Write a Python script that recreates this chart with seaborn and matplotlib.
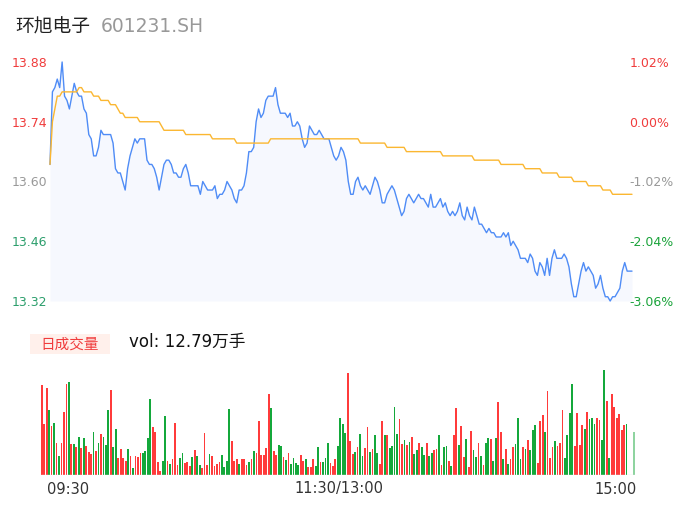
import numpy as np
import pandas as pd
import matplotlib.pyplot as plt
import seaborn as sns

# stock and day summary
stock_name = "环旭电子"
stock_code = "601231.SH"
prev_close = 13.74
day_volume_label = "vol: 12.79万手"

# minute prices 09:30 -> 15:00 (241 points)
price = [
    13.64, 13.81, 13.82, 13.84, 13.82, 13.88, 13.80, 13.79, 13.77, 13.80,
    13.83, 13.81, 13.80, 13.80, 13.77, 13.76, 13.71, 13.70, 13.66, 13.66,
    13.68, 13.72, 13.71, 13.71, 13.71, 13.71, 13.69, 13.63, 13.62, 13.62,
    13.60, 13.58, 13.63, 13.66, 13.68, 13.70, 13.69, 13.70, 13.70, 13.70,
    13.65, 13.64, 13.64, 13.63, 13.61, 13.58, 13.61, 13.64, 13.65, 13.65,
    13.64, 13.62, 13.62, 13.61, 13.61, 13.63, 13.64, 13.62, 13.59, 13.59,
    13.59, 13.59, 13.57, 13.60, 13.59, 13.58, 13.58, 13.58, 13.59, 13.56,
    13.57, 13.57, 13.58, 13.60, 13.59, 13.58, 13.56, 13.55, 13.58, 13.58,
    13.59, 13.62, 13.67, 13.67, 13.68, 13.74, 13.77, 13.75, 13.76, 13.79,
    13.80, 13.80, 13.80, 13.82, 13.78, 13.76, 13.76, 13.76, 13.75, 13.76,
    13.73, 13.73, 13.74, 13.73, 13.70, 13.68, 13.69, 13.73, 13.72, 13.71,
    13.71, 13.72, 13.71, 13.70, 13.70, 13.70, 13.68, 13.66, 13.65, 13.66,
    13.68, 13.67, 13.65, 13.60, 13.57, 13.57, 13.60, 13.61, 13.59, 13.58,
    13.59, 13.58, 13.57, 13.59, 13.61, 13.60, 13.58, 13.55, 13.55, 13.57,
    13.58, 13.59, 13.58, 13.56, 13.54, 13.52, 13.53, 13.56, 13.57, 13.56,
    13.55, 13.56, 13.57, 13.56, 13.56, 13.55, 13.54, 13.57, 13.54, 13.54,
    13.55, 13.56, 13.54, 13.55, 13.53, 13.52, 13.53, 13.52, 13.53, 13.55,
    13.52, 13.51, 13.54, 13.52, 13.51, 13.54, 13.52, 13.50, 13.50, 13.49,
    13.48, 13.49, 13.48, 13.48, 13.47, 13.47, 13.47, 13.48, 13.47, 13.48,
    13.45, 13.46, 13.45, 13.44, 13.42, 13.42, 13.42, 13.41, 13.43, 13.42,
    13.39, 13.38, 13.41, 13.40, 13.38, 13.42, 13.38, 13.42, 13.44, 13.42,
    13.42, 13.42, 13.43, 13.42, 13.40, 13.36, 13.33, 13.33, 13.36, 13.39,
    13.41, 13.39, 13.40, 13.39, 13.38, 13.35, 13.36, 13.38, 13.35, 13.33,
    13.33, 13.32, 13.33, 13.33, 13.34, 13.35, 13.39, 13.41, 13.39, 13.39,
    13.39,
]

# average price line
avg_price = [
    13.64, 13.74, 13.77, 13.80, 13.80, 13.81, 13.81, 13.81, 13.81, 13.81,
    13.81, 13.81, 13.82, 13.82, 13.81, 13.81, 13.81, 13.81, 13.80, 13.80,
    13.80, 13.79, 13.79, 13.79, 13.79, 13.78, 13.78, 13.78, 13.77, 13.76,
    13.76, 13.75, 13.75, 13.75, 13.75, 13.75, 13.75, 13.74, 13.74, 13.74,
    13.74, 13.74, 13.74, 13.74, 13.74, 13.74, 13.73, 13.72, 13.72, 13.72,
    13.72, 13.72, 13.72, 13.72, 13.72, 13.72, 13.71, 13.71, 13.71, 13.71,
    13.71, 13.71, 13.71, 13.71, 13.71, 13.71, 13.71, 13.70, 13.70, 13.70,
    13.70, 13.70, 13.70, 13.70, 13.70, 13.70, 13.70, 13.69, 13.69, 13.69,
    13.69, 13.69, 13.69, 13.69, 13.69, 13.69, 13.69, 13.69, 13.69, 13.69,
    13.69, 13.70, 13.70, 13.70, 13.70, 13.70, 13.70, 13.70, 13.70, 13.70,
    13.70, 13.70, 13.70, 13.70, 13.70, 13.70, 13.70, 13.70, 13.70, 13.70,
    13.70, 13.70, 13.70, 13.70, 13.70, 13.70, 13.70, 13.70, 13.70, 13.70,
    13.70, 13.70, 13.70, 13.70, 13.70, 13.70, 13.70, 13.70, 13.69, 13.69,
    13.69, 13.69, 13.69, 13.69, 13.69, 13.69, 13.69, 13.69, 13.69, 13.68,
    13.68, 13.68, 13.68, 13.68, 13.68, 13.68, 13.68, 13.67, 13.67, 13.67,
    13.67, 13.67, 13.67, 13.67, 13.67, 13.67, 13.67, 13.67, 13.67, 13.67,
    13.67, 13.67, 13.66, 13.66, 13.66, 13.66, 13.66, 13.66, 13.66, 13.66,
    13.66, 13.66, 13.66, 13.66, 13.66, 13.65, 13.65, 13.65, 13.65, 13.65,
    13.65, 13.65, 13.65, 13.65, 13.65, 13.65, 13.64, 13.64, 13.64, 13.64,
    13.64, 13.64, 13.64, 13.64, 13.64, 13.64, 13.63, 13.63, 13.63, 13.63,
    13.63, 13.63, 13.63, 13.62, 13.62, 13.62, 13.62, 13.62, 13.62, 13.62,
    13.61, 13.61, 13.61, 13.61, 13.61, 13.61, 13.60, 13.60, 13.60, 13.60,
    13.60, 13.60, 13.59, 13.59, 13.59, 13.59, 13.59, 13.59, 13.58, 13.58,
    13.58, 13.58, 13.57, 13.57, 13.57, 13.57, 13.57, 13.57, 13.57, 13.57,
    13.57,
]

# minute volume (relative bar heights) and direction (1 = up/red, 0 = down/green)
volume = [
    90, 51, 87, 65, 49, 52, 32, 19, 32, 63,
    91, 93, 31, 31, 28, 38, 27, 37, 29, 23,
    21, 43, 24, 32, 41, 38, 30, 65, 85, 28,
    46, 17, 26, 17, 14, 26, 19, 7, 19, 18,
    22, 22, 24, 37, 76, 48, 43, 13, 4, 14,
    59, 14, 11, 16, 52, 10, 17, 22, 12, 13,
    9, 18, 25, 19, 10, 7, 42, 10, 21, 19,
    9, 11, 13, 20, 8, 14, 66, 34, 14, 16,
    11, 16, 16, 10, 13, 16, 24, 22, 54, 20,
    20, 27, 81, 67, 24, 20, 30, 29, 18, 15,
    22, 11, 17, 12, 10, 20, 14, 16, 8, 8,
    16, 9, 28, 13, 13, 17, 32, 12, 9, 16,
    29, 57,
    51, 42, 102, 34, 21, 23, 28, 41, 19, 27,
    48, 23, 26, 40, 22, 11, 54, 40, 40, 27,
    29, 68, 41, 56, 31, 35, 30, 33, 38, 21,
    25,
    32, 28, 20, 32, 19, 22, 25, 26, 40, 10,
    28, 29, 14, 9, 40, 67, 30, 49, 18, 36,
    8, 44, 25, 18, 32, 19, 10, 32, 37, 36,
    14, 37, 73, 43, 16, 26, 11, 16, 28, 31,
    57, 16, 28, 26, 35, 25, 45, 50, 12, 54,
    60, 43, 84, 17, 28, 34, 29, 32, 65, 17,
    40, 62, 91, 29, 62, 30, 50, 46, 63, 56,
    57, 51, 57, 55, 35, 105, 74, 17, 81, 68,
    57, 61, 45, 50, 51,
    0, 0, 43,
]
vol_up = [
    1, 1, 1, 0, 1, 0, 1, 0, 1, 1,
    1, 0, 1, 0, 1, 0, 1, 0, 1, 1,
    1, 0, 1, 0, 1, 0, 0, 0, 1, 0,
    0, 1, 1, 1, 1, 0, 1, 0, 1, 1,
    1, 0, 0, 0, 0, 1, 1, 1, 1, 0,
    0, 1, 0, 1, 1, 1, 0, 0, 1, 1,
    1, 0, 1, 0, 0, 1, 1, 1, 0, 1,
    1, 1, 1, 0, 0, 0, 0, 1, 1, 1,
    0, 1, 1, 1, 0, 1, 0, 1, 1, 1,
    1, 1, 1, 0, 1, 1, 0, 0, 1, 0,
    1, 0, 0, 0, 0, 1, 1, 0, 1, 1,
    1, 0, 0, 1, 0, 0, 0, 1, 1, 1,
    0, 0,
    0, 0, 1, 1, 1, 0, 1, 0, 0, 1,
    1, 0, 1, 0, 0, 1, 1, 0, 1, 0,
    0, 0, 0, 1, 1, 0, 1, 0, 1, 0,
    0,
    1, 0, 0, 1, 0, 0, 1, 1, 0, 1,
    0, 0, 1, 0, 1, 1, 0, 1, 1, 0,
    1, 1, 0, 0, 1, 0, 1, 0, 0, 1,
    0, 0, 1, 1, 0, 1, 0, 1, 1, 0,
    0, 0, 1, 0, 1, 0, 0, 0, 1, 1,
    1, 0, 1, 1, 1, 0, 1, 1, 1, 0,
    0, 0, 0, 1, 1, 1, 1, 0, 1, 0,
    0, 0, 1, 1, 0, 0, 1, 0, 1, 1,
    1, 1, 1, 1, 0,
    0, 0, 0,
]

price_ticks = [13.32, 13.46, 13.60, 13.74, 13.88]
left_tick_colors = ["#2c9e6c", "#2c9e6c", "#999999", "#f03c3c", "#f03c3c"]
right_tick_colors = ["#1aa33a", "#1aa33a", "#999999", "#f03c3c", "#f03c3c"]
time_labels = ["09:30", "11:30/13:00", "15:00"]

W, H = 686, 524
sns.set_theme(style="white")
plt.rcParams["font.family"] = ["DejaVu Sans", "Noto Sans CJK SC"]

df = pd.DataFrame({"t": np.arange(len(price)), "price": price, "avg": avg_price,
                   "vol": volume, "up": vol_up})

fig = plt.figure(figsize=(W / 100, H / 100), dpi=100)
fig.patch.set_facecolor("white")


def box(x0, y0, x1, y1):
    # pixel box (top-left origin) -> figure fraction rect
    return [x0 / W, 1 - y1 / H, (x1 - x0) / W, (y1 - y0) / H]


# price panel
ax = fig.add_axes(box(50, 62, 632, 301))
ax.fill_between(df["t"], df["price"], price_ticks[0], color="#f6f8fe", lw=0)
sns.lineplot(data=df, x="t", y="price", ax=ax, color="#4f8cf6", lw=1.0,
             estimator=None, clip_on=False)
sns.lineplot(data=df, x="t", y="avg", ax=ax, color="#fbb731", lw=1.0,
             estimator=None, clip_on=False)
ax.set_xlim(0, len(price) - 1)
ax.set_ylim(price_ticks[0], price_ticks[-1])
ax.set_xticks([])
ax.set_yticks(price_ticks)
ax.set_yticklabels([f"{t:.2f}" for t in price_ticks], fontsize=9)
for lab, c in zip(ax.get_yticklabels(), left_tick_colors):
    lab.set_color(c)
ax.tick_params(axis="y", length=0, pad=2)
ax.set_xlabel("")
ax.set_ylabel("")
for s in ax.spines.values():
    s.set_visible(False)

ax2 = ax.twinx()
ax2.set_ylim(ax.get_ylim())
ax2.set_yticks(price_ticks)
ax2.set_yticklabels([f"{(t - prev_close) / prev_close * 100:.2f}%" for t in price_ticks], fontsize=9)
for lab, c in zip(ax2.get_yticklabels(), right_tick_colors):
    lab.set_color(c)
ax2.tick_params(axis="y", length=0, pad=-2)
for s in ax2.spines.values():
    s.set_visible(False)

# title
fig.text(15 / W, 1 - 27 / H, stock_name, fontsize=13.5, color="#222222", va="center")
fig.text(101 / W, 1 - 27 / H, stock_code, fontsize=13.5, color="#999999", va="center")

# volume header
fig.patches.append(plt.Rectangle((30 / W, 1 - 354 / H), 80 / W, 20 / H,
                                 transform=fig.transFigure, color="#fff0eb", lw=0))
fig.text(70 / W, 1 - 344 / H, "日成交量", fontsize=10.5, color="#f03c3c",
         ha="center", va="center")
fig.text(129 / W, 1 - 342 / H, day_volume_label, fontsize=12, color="#111111", va="center")

# volume panel
axv = fig.add_axes(box(40.5, 370, 635.2, 475))
colors = ["#ff3b3b" if u else "#14a83b" for u in df["up"]]
colors[-1] = "#8fd4a0"
axv.bar(df["t"], df["vol"], width=0.72, color=colors, lw=0)
axv.axhline(0, color="#e3e3e3", lw=1)
axv.set_xlim(-0.5, len(volume) - 0.5)
axv.set_ylim(0, 105)
axv.set_xticks([])
axv.set_yticks([])
for s in axv.spines.values():
    s.set_visible(False)

# time axis labels
fig.text(47 / W, 1 - 489 / H, time_labels[0], fontsize=10.5, color="#333333", va="center", ha="left")
fig.text(339 / W, 1 - 489 / H, time_labels[1], fontsize=10.5, color="#333333", va="center", ha="center")
fig.text(637 / W, 1 - 489 / H, time_labels[2], fontsize=10.5, color="#333333", va="center", ha="right")

fig.savefig("out.png", dpi=100, facecolor="white")
